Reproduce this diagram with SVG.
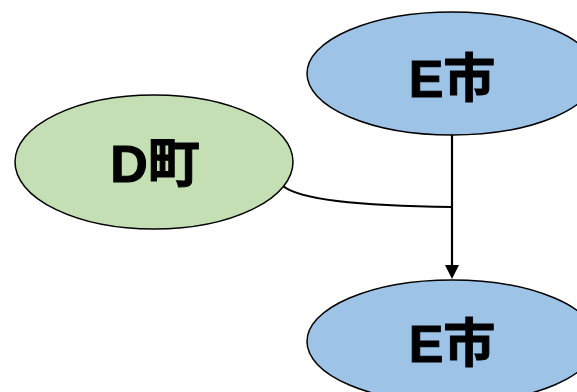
<svg xmlns="http://www.w3.org/2000/svg" width="577" height="392" viewBox="0 0 577 392">
<defs>
<style>
.n{stroke:#000;stroke-width:1.5}
.g{fill:#c5dfb4}
.b{fill:#9dc3e6}
.t{font-family:"Liberation Sans","Noto Sans CJK JP",sans-serif;font-weight:bold;font-size:52px;text-anchor:middle;fill:#000;stroke:#000;stroke-width:1}
.c{fill:none;stroke:#000;stroke-width:2.2}
</style>
</defs>
<g id="connectors">
<path class="c" d="M283,186 C300,200 360,206 452,207"/>
<path class="c" d="M452,135 L452,266"/>
<path d="M445,265 L459,265 L452,279 z" fill="#000"/>
</g>
<g id="nodeD">
<ellipse class="n g" cx="154" cy="162" rx="139" ry="67"/>
<text class="t" x="155" y="182">D町</text>
</g>
<g id="nodeE1">
<ellipse class="n b" cx="452" cy="73.5" rx="145" ry="61.5"/>
<text class="t" x="452" y="97">E市</text>
</g>
<g id="nodeE2">
<ellipse class="n b" cx="452" cy="341.5" rx="145" ry="61.5"/>
<text class="t" x="452" y="362">E市</text>
</g>
</svg>
